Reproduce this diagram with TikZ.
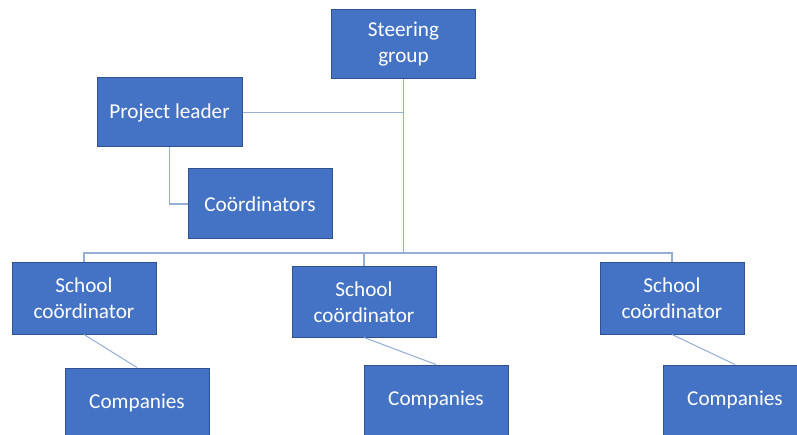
\documentclass[tikz,border=0pt]{standalone}
\usepackage{fontspec}
\setmainfont{Carlito}
\definecolor{boxfill}{HTML}{4472C4}
\definecolor{boxedge}{HTML}{2F528F}
\definecolor{linkc}{HTML}{94AED6}
\begin{document}
\begin{tikzpicture}[x=1pt,y=-1pt,
  box/.style={draw=boxedge,line width=1pt,fill=boxfill,text=white,minimum width=144pt,minimum height=70pt,align=center,inner sep=2pt,font=\fontsize{21.2}{26}\selectfont},
  link/.style={draw=linkc,line width=1.4pt}]
\useasboundingbox (0,0) rectangle (797,435);
\clip (0,0) rectangle (797,435);
\fill[white] (0,0) rectangle (797,435);
\node[box,minimum height=69pt] (steer) at (403.5,44.5) {Steering\\group};
\node[box,minimum width=145pt,minimum height=69pt] (pl) at (169.5,112.5) {Project leader};
\node[box] (coord) at (260,204) {Coördinators};
\node[box,minimum height=71pt] (sl) at (84,298.5) {School\\coördinator};
\node[box] (sm) at (364,302) {School\\coördinator};
\node[box,minimum height=71pt] (sr) at (672,298.5) {School\\coördinator};
\node[box] (cl) at (137,403) {Companies};
\node[box] (cm) at (436,400) {Companies};
\node[box] (cr) at (735,400) {Companies};
\coordinate (bus) at (404,253);
\draw[link] (steer.south) -- (steer.south |- bus);
\draw[link] (pl.east) -- (pl.east -| steer.south);
\draw[link] (pl.south) |- (coord.west);
\draw[link] (sl.north) |- (bus) -| (sr.north);
\draw[link] (sm.north) -- (sm.north |- bus);
\draw[link,line width=1pt] (sl.south) -- (cl.north);
\draw[link,line width=1pt] (sm.south) -- (cm.north);
\draw[link,line width=1pt] (sr.south) -- (cr.north);
\end{tikzpicture}
\end{document}
